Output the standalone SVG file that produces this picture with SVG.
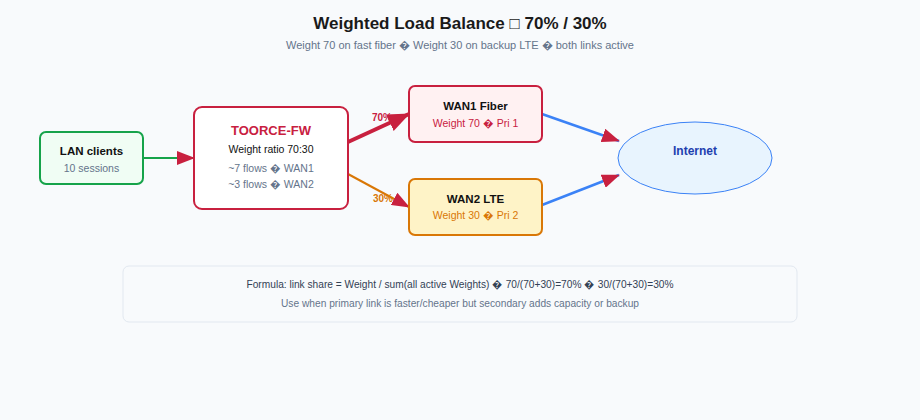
<svg xmlns="http://www.w3.org/2000/svg" width="920" height="420" viewBox="0 0 920 420">
<style>
text{font-family:"Liberation Sans",Arial,sans-serif;text-anchor:middle}
.t{font-size:17px;font-weight:bold;fill:#1a1a1a}
.st{font-size:11px;fill:#64748b}
.b{font-size:11.5px;font-weight:bold;fill:#111}
.s{font-size:10.5px;fill:#64748b}
.lbl{font-size:10px;font-weight:bold}
</style>
<defs>
<marker id="ah" markerUnits="userSpaceOnUse" markerWidth="18" markerHeight="14" refX="17" refY="7" orient="auto">
<path d="M0,0 L18,7 L0,14 z" fill="#c8203f"/>
</marker>
<marker id="ahL" markerUnits="userSpaceOnUse" markerWidth="22" markerHeight="18" refX="21" refY="9" orient="auto">
<path d="M0,0 L22,9 L0,18 z" fill="#c8203f"/>
</marker>
</defs>
<rect width="920" height="420" fill="#f8fafc"/>
<text class="t" x="460" y="29">Weighted Load Balance □ 70% / 30%</text>
<text class="st" x="460" y="49">Weight 70 on fast fiber � Weight 30 on backup LTE � both links active</text>
<g id="connectors">
<line x1="143" y1="158" x2="194" y2="158" stroke="#16a34a" stroke-width="2" marker-end="url(#ah)"/>
<line x1="348" y1="142" x2="409" y2="114" stroke="#c8203f" stroke-width="4" marker-end="url(#ahL)"/>
<line x1="348" y1="174" x2="409" y2="207" stroke="#d97706" stroke-width="2" marker-end="url(#ah)"/>
<line x1="542" y1="114" x2="619" y2="141" stroke="#3b82f6" stroke-width="2.5" marker-end="url(#ah)"/>
<line x1="542" y1="205" x2="619" y2="175" stroke="#3b82f6" stroke-width="2.5" marker-end="url(#ah)"/>
<text class="lbl" x="382" y="121" fill="#c8203f">70%</text>
<text class="lbl" x="383" y="202" fill="#d97706">30%</text>
</g>
<g id="lan">
<rect x="40" y="132" width="103" height="52" rx="6" fill="#f0fdf4" stroke="#16a34a" stroke-width="2"/>
<text class="b" x="91.5" y="155">LAN clients</text>
<text class="s" x="91.5" y="172">10 sessions</text>
</g>
<g id="fw">
<rect x="194" y="107" width="154" height="102" rx="8" fill="#fff" stroke="#c8203f" stroke-width="2"/>
<text x="271" y="135" font-size="13" font-weight="bold" fill="#c8203f">TOORCE-FW</text>
<text x="271" y="153" font-size="10.5" fill="#111">Weight ratio 70:30</text>
<text class="s" x="271" y="172">~7 flows � WAN1</text>
<text class="s" x="271" y="188">~3 flows � WAN2</text>
</g>
<g id="wan1">
<rect x="409" y="86" width="133" height="56" rx="6" fill="#fff1f2" stroke="#c8203f" stroke-width="2"/>
<text class="b" x="475.5" y="110">WAN1 Fiber</text>
<text class="s" x="475.5" y="127" fill="#c8203f" style="fill:#c8203f">Weight 70 � Pri 1</text>
</g>
<g id="wan2">
<rect x="409" y="179" width="133" height="56" rx="6" fill="#fef3c7" stroke="#d97706" stroke-width="2"/>
<text class="b" x="475.5" y="203">WAN2 LTE</text>
<text class="s" x="475.5" y="219" style="fill:#d97706">Weight 30 � Pri 2</text>
</g>
<g id="internet">
<ellipse cx="695" cy="158" rx="77" ry="36" fill="#e8f4fe" stroke="#3b82f6" stroke-width="1"/>
<text x="695" y="155" font-size="12" font-weight="bold" fill="#1e40af">Internet</text>
</g>
<g id="formula">
<rect x="123" y="266" width="674" height="56" rx="6" fill="#f8fafc" stroke="#e2e8f0" stroke-width="1"/>
<text x="460" y="288" font-size="10.5" fill="#334155" textLength="427" lengthAdjust="spacingAndGlyphs">Formula: link share = Weight / sum(all active Weights) � 70/(70+30)=70% � 30/(70+30)=30%</text>
<text x="460" y="307" font-size="10.5" fill="#64748b" textLength="358" lengthAdjust="spacingAndGlyphs">Use when primary link is faster/cheaper but secondary adds capacity or backup</text>
</g>
</svg>
